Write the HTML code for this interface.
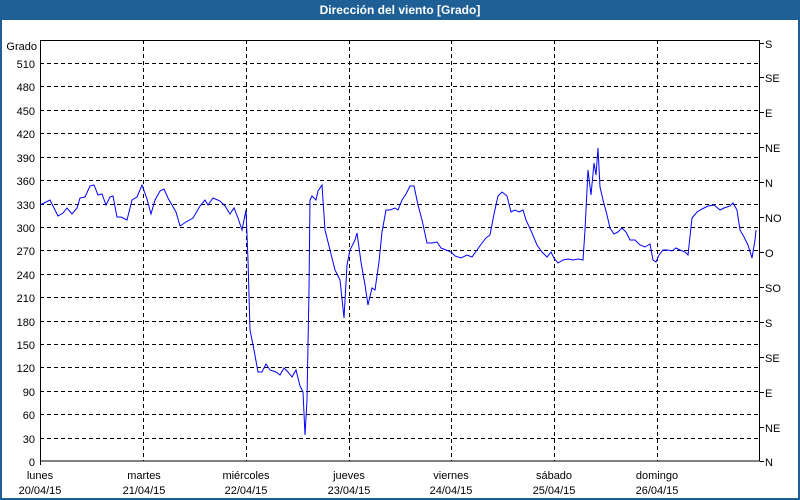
<!DOCTYPE html>
<html><head><meta charset="utf-8"><style>
body{margin:0;width:800px;height:500px;overflow:hidden;background:#fff}
svg{display:block}
text{font-family:"Liberation Sans","DejaVu Sans",sans-serif;font-size:11px;fill:#000}
</style></head><body>
<svg width="800" height="500" viewBox="0 0 800 500">
<rect x="0" y="0" width="800" height="500" fill="#1e5f96"/>
<rect x="2" y="20" width="796" height="478" fill="#fff"/>
<text x="400" y="14" text-anchor="middle" style="fill:#fff;font-weight:bold;font-size:12px">Dirección del viento [Grado]</text>
<g stroke="#000" stroke-dasharray="4,3" stroke-width="1">
<line x1="40" x2="760" y1="63.5" y2="63.5"/><line x1="40" x2="760" y1="86.5" y2="86.5"/>
<line x1="40" x2="760" y1="110.5" y2="110.5"/><line x1="40" x2="760" y1="133.5" y2="133.5"/>
<line x1="40" x2="760" y1="157.5" y2="157.5"/><line x1="40" x2="760" y1="180.5" y2="180.5"/>
<line x1="40" x2="760" y1="204.5" y2="204.5"/><line x1="40" x2="760" y1="227.5" y2="227.5"/>
<line x1="40" x2="760" y1="250.5" y2="250.5"/><line x1="40" x2="760" y1="274.5" y2="274.5"/>
<line x1="40" x2="760" y1="297.5" y2="297.5"/><line x1="40" x2="760" y1="321.5" y2="321.5"/>
<line x1="40" x2="760" y1="344.5" y2="344.5"/><line x1="40" x2="760" y1="367.5" y2="367.5"/>
<line x1="40" x2="760" y1="391.5" y2="391.5"/><line x1="40" x2="760" y1="414.5" y2="414.5"/>
<line x1="40" x2="760" y1="438.5" y2="438.5"/>
<line x1="143.5" x2="143.5" y1="40" y2="461"/><line x1="246.5" x2="246.5" y1="40" y2="461"/>
<line x1="349.5" x2="349.5" y1="40" y2="461"/><line x1="451.5" x2="451.5" y1="40" y2="461"/>
<line x1="554.5" x2="554.5" y1="40" y2="461"/><line x1="657.5" x2="657.5" y1="40" y2="461"/>
</g>
<rect x="40.5" y="40.5" width="719" height="420.5" fill="none" stroke="#000"/>
<g text-anchor="end">
<text x="37" y="50">Grado</text>
<text x="35" y="68">510</text><text x="35" y="91">480</text><text x="35" y="115">450</text>
<text x="35" y="138">420</text><text x="35" y="162">390</text><text x="35" y="185">360</text>
<text x="35" y="209">330</text><text x="35" y="232">300</text><text x="35" y="255">270</text>
<text x="35" y="279">240</text><text x="35" y="302">210</text><text x="35" y="326">180</text>
<text x="35" y="349">150</text><text x="35" y="372">120</text><text x="35" y="396">90</text>
<text x="35" y="419">60</text><text x="35" y="443">30</text><text x="35" y="466">0</text>
</g>
<g stroke="#000"><line x1="760" x2="764" y1="43.5" y2="43.5"/><line x1="760" x2="764" y1="77.5" y2="77.5"/><line x1="760" x2="764" y1="112.5" y2="112.5"/><line x1="760" x2="764" y1="147.5" y2="147.5"/><line x1="760" x2="764" y1="182.5" y2="182.5"/><line x1="760" x2="764" y1="217.5" y2="217.5"/><line x1="760" x2="764" y1="252.5" y2="252.5"/><line x1="760" x2="764" y1="287.5" y2="287.5"/><line x1="760" x2="764" y1="322.5" y2="322.5"/><line x1="760" x2="764" y1="357.5" y2="357.5"/><line x1="760" x2="764" y1="392.5" y2="392.5"/><line x1="760" x2="764" y1="427.5" y2="427.5"/><line x1="760" x2="764" y1="461.5" y2="461.5"/>
<line x1="40.5" x2="40.5" y1="461" y2="465"/></g>
<g>
<text x="765" y="48">S</text><text x="765" y="82">SE</text><text x="765" y="117">E</text><text x="765" y="152">NE</text><text x="765" y="187">N</text><text x="765" y="222">NO</text><text x="765" y="257">O</text><text x="765" y="292">SO</text><text x="765" y="327">S</text><text x="765" y="362">SE</text><text x="765" y="397">E</text><text x="765" y="432">NE</text><text x="765" y="466">N</text>
</g>
<g text-anchor="middle">
<text x="40" y="479">lunes</text><text x="40" y="494">20/04/15</text>
<text x="144" y="479">martes</text><text x="144" y="494">21/04/15</text>
<text x="246" y="479">miércoles</text><text x="246" y="494">22/04/15</text>
<text x="349" y="479">jueves</text><text x="349" y="494">23/04/15</text>
<text x="451" y="479">viernes</text><text x="451" y="494">24/04/15</text>
<text x="554" y="479">sábado</text><text x="554" y="494">25/04/15</text>
<text x="657" y="479">domingo</text><text x="657" y="494">26/04/15</text>
</g>
<polyline fill="none" stroke="#0000ff" stroke-width="1" points="40,205 44,203 50,200 55,210 58,216 63,213 67,208 72,214 77,208 80,198 85,197 90,186 94,185 98,195 102,194 106,205 110,197 113,196 117,217 121,217 127,220 132,200 137,197 142,185 147,199 151,214 155,200 160,191 164,189 168,198 172,205 176,212 180,226 186,222 193,218 200,206 205,200 208,205 213,198 220,201 225,206 230,214 234,208 238,218 242,230 246,210 248,260 250,330 254,350 258,372 262,372 266,364 270,370 276,372 280,375 284,368 288,372 292,377 296,370 300,386 303,392 305,435 307,400 309,290 310,200 312,196 316,200 318,191 322,185 325,230 330,250 335,270 340,280 344,318 347,265 350,250 355,240 357,233 361,262 365,285 368,305 372,288 375,290 379,262 382,232 386,210 390,210 395,208 398,210 402,200 406,194 410,186 414,186 418,205 422,220 427,243 432,243 437,242 441,248 446,250 451,252 455,256 461,258 467,255 472,257 477,250 482,243 486,238 490,235 494,214 498,196 502,192 507,196 511,212 515,210 519,212 523,210 526,220 532,233 537,245 542,252 547,257 551,252 554,258 558,263 563,260 568,259 573,260 578,259 583,260 585,230 588,170 591,195 594,163 596,175 598,148 600,187 603,200 607,215 610,228 614,234 618,232 622,228 626,232 630,240 635,240 640,245 645,247 650,244 653,260 656,262 659,255 663,250 668,250 672,251 676,248 680,250 685,252 688,255 692,218 697,212 702,209 708,206 714,205 720,210 724,208 730,206 733,203 737,210 740,230 744,237 748,245 752,258 755,240 756,230"/>
</svg>
</body></html>
